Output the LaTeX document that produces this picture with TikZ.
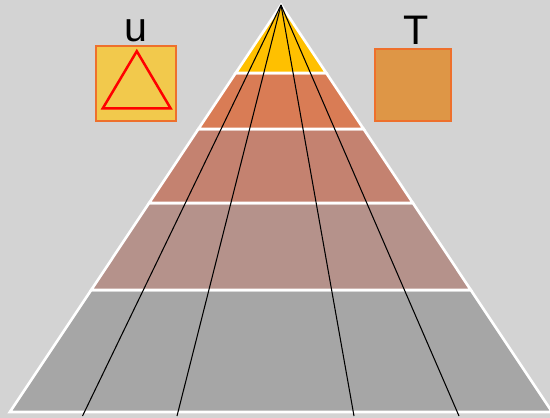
\documentclass[tikz,border=0pt]{standalone}
\usepackage{fontspec}
\setmainfont{Liberation Sans}
\definecolor{bgc}{RGB}{211,211,211}
\definecolor{bandA}{RGB}{255,192,0}
\definecolor{bandB}{RGB}{217,124,85}
\definecolor{bandC}{RGB}{196,130,112}
\definecolor{bandD}{RGB}{181,146,139}
\definecolor{bandE}{RGB}{166,166,166}
\definecolor{boxline}{RGB}{238,112,44}
\definecolor{boxU}{RGB}{242,201,76}
\definecolor{boxT}{RGB}{222,150,70}
\tikzset{
  band/.style={draw=white, line width=1.5pt, line join=miter},
  ray/.style={draw=black, line width=0.6pt},
  symbox/.style={draw=boxline, line width=1.13pt, inner sep=0pt},
  lbl/.style={font=\fontsize{23.5}{28}\selectfont, anchor=base, inner sep=0pt}
}
\begin{document}
\begin{tikzpicture}[x=0.02cm, y=-0.02cm]
\useasboundingbox (0,0) rectangle (550,418);
\fill[bgc] (0,0) rectangle (550,418);
\clip (0,0) rectangle (550,418);
% bands
\path[band, fill=bandE] (91.2,290) -- (470.8,290) -- (552.1,412) -- (9.9,412) -- cycle;
\path[band, fill=bandD] (149.1,203) -- (412.9,203) -- (470.8,290) -- (91.2,290) -- cycle;
\path[band, fill=bandC] (198.4,129) -- (363.6,129) -- (412.9,203) -- (149.1,203) -- cycle;
\path[band, fill=bandB] (235.7,73) -- (326.3,73) -- (363.6,129) -- (198.4,129) -- cycle;
\path[band, fill=bandA] (281,5) -- (326.3,73) -- (235.7,73) -- cycle;
% rays
\coordinate (apex) at (281,5);
\coordinate (e1) at (82.5,416);
\coordinate (e2) at (177,416);
\coordinate (e3) at (354,416);
\coordinate (e4) at (459,416);
\draw[ray] (apex) -- (e1);
\draw[ray] (apex) -- (e2);
\draw[ray] (apex) -- (e3);
\draw[ray] (apex) -- (e4);
% boxes
\node[symbox, fill=boxU, minimum width=1.606cm, minimum height=1.508cm] (boxu) at (136.2,83.7) {};
\node[symbox, fill=boxT, minimum width=1.514cm, minimum height=1.452cm] (boxt) at (412.9,85) {};
\draw[red, line width=1.42pt, line join=miter] ([shift={(0.6,-32.5)}]boxu.center) -- ([shift={(34.5,24.8)}]boxu.center) -- ([shift={(-33.5,24.8)}]boxu.center) -- cycle;
% labels
\node[lbl] (lu) at (136,41.5) {u};
\node[lbl] (lt) at (416.5,45) {T};
\end{tikzpicture}
\end{document}
